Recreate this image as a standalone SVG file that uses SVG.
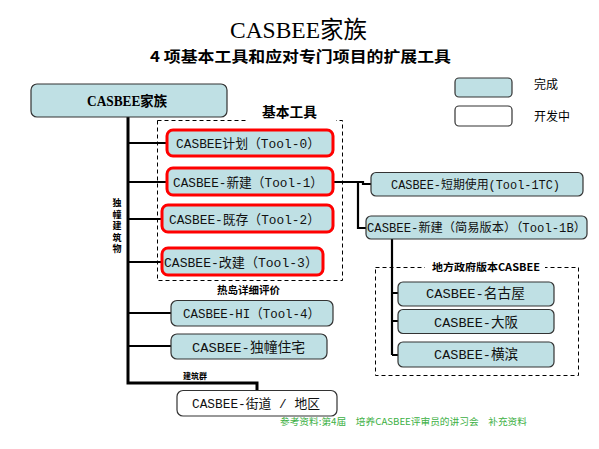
<svg xmlns="http://www.w3.org/2000/svg" width="599" height="449" viewBox="0 0 599 449">
<style>
  .bg{fill:#ffffff}
  .done{fill:#bfe0e4;stroke:#333333;stroke-width:1.2}
  .dev{fill:#ffffff;stroke:#333333;stroke-width:1.2}
  .basic{fill:#bfe0e4;stroke:#ff0000;stroke-width:3}
  .dash{fill:none;stroke:#000000;stroke-width:1;stroke-dasharray:4,3}
  .lbl{font-family:"Liberation Mono","Noto Sans CJK SC",monospace;font-size:13px;fill:#111111}
  .bold{font-family:"Noto Sans CJK SC","Liberation Sans",sans-serif;font-weight:bold;fill:#000000}
  .trunk{fill:none;stroke:#000000;stroke-width:3}
  .br{fill:none;stroke:#000000;stroke-width:2.2}
  .leg{font-family:"Noto Sans CJK SC","Liberation Sans",sans-serif;font-size:12px;fill:#000000}
</style>
<rect class="bg" x="0" y="0" width="599" height="449"/>

<g id="title">
  <text x="230" y="38" textLength="137" lengthAdjust="spacingAndGlyphs" style="font-family:'Liberation Serif','Noto Sans CJK SC',serif;font-size:24px;fill:#000">CASBEE家族</text>
  <text x="150" y="62" textLength="301" lengthAdjust="spacingAndGlyphs" class="bold" style="font-size:15px">4 项基本工具和应对专门项目的扩展工具</text>
</g>

<g id="legend">
  <rect class="done" x="455" y="78" width="57" height="19" rx="4"/>
  <text class="leg" x="534" y="89">完成</text>
  <rect class="dev" x="455" y="106" width="57" height="20" rx="4"/>
  <text class="leg" x="534" y="121">开发中</text>
</g>

<g id="groups">
  <rect class="dash" x="157.5" y="120.5" width="185" height="160"/>
  <rect x="248" y="104" width="88" height="20" fill="#ffffff"/>
  <text class="bold" x="262" y="117" textLength="55" lengthAdjust="spacingAndGlyphs" style="font-size:13.5px">基本工具</text>
  <rect class="dash" x="375.5" y="267.5" width="203" height="108"/>
  <rect x="425" y="260" width="120" height="14" fill="#ffffff"/>
  <text class="bold" x="432" y="271" textLength="108" lengthAdjust="spacingAndGlyphs" style="font-size:10.5px">地方政府版本CASBEE</text>
  <text class="bold" x="217" y="294" textLength="63" lengthAdjust="spacingAndGlyphs" style="font-size:10px">热岛详细评价</text>
  <text class="bold" x="183" y="379" textLength="24" lengthAdjust="spacingAndGlyphs" style="font-size:8.5px">建筑群</text>
  <g class="bold" style="font-size:9px" text-anchor="middle">
    <text x="117" y="206">独</text>
    <text x="117" y="217.5">幢</text>
    <text x="117" y="229">建</text>
    <text x="117" y="240.5">筑</text>
    <text x="117" y="252">物</text>
  </g>
</g>

<g id="connectors">
  <path class="trunk" d="M128,117 V383 H257 V390"/>
  <path class="br" d="M128,143 H167 M128,182 H167 M128,219 H162 M128,262 H162 M128,313 H171 M128,346 H171"/>
  <path class="br" d="M333,182 H363 V184 H371 M358,182 V228 H366"/>
  <path class="br" d="M392,239 V355 M392,293 H398 M392,321 H398 M392,355 H398"/>
</g>

<g id="root">
  <rect class="done" x="31" y="84" width="196" height="33" rx="6"/>
  <text class="bold" x="87" y="106" textLength="80" lengthAdjust="spacingAndGlyphs" style="font-size:14px;font-family:'Liberation Serif','Noto Sans CJK SC',serif">CASBEE家族</text>
</g>

<g id="tool0">
  <rect class="basic" x="167" y="130" width="166" height="26" rx="6"/>
  <text class="lbl" x="176" y="148" textLength="144" lengthAdjust="spacingAndGlyphs">CASBEE计划（Tool-0）</text>
</g>
<g id="tool1">
  <rect class="basic" x="167" y="168" width="166" height="27" rx="6"/>
  <text class="lbl" x="173" y="187" textLength="150" lengthAdjust="spacingAndGlyphs">CASBEE-新建（Tool-1）</text>
</g>
<g id="tool2">
  <rect class="basic" x="162" y="205" width="171" height="27" rx="6"/>
  <text class="lbl" x="169" y="224" textLength="151" lengthAdjust="spacingAndGlyphs">CASBEE-既存（Tool-2）</text>
</g>
<g id="tool3">
  <rect class="basic" x="162" y="248" width="161" height="27" rx="6"/>
  <text class="lbl" x="164" y="267" textLength="154" lengthAdjust="spacingAndGlyphs">CASBEE-改建（Tool-3）</text>
</g>

<g id="tool1tc">
  <rect class="done" x="371" y="172.5" width="212" height="23.5" rx="5"/>
  <text class="lbl" x="391" y="189" textLength="169" lengthAdjust="spacingAndGlyphs" style="font-size:12px">CASBEE-短期使用(Tool-1TC)</text>
</g>
<g id="tool1b">
  <rect class="done" x="366" y="216" width="221" height="23" rx="5"/>
  <text class="lbl" x="367" y="232" textLength="219" lengthAdjust="spacingAndGlyphs" style="font-size:12px">CASBEE-新建（简易版本）（Tool-1B）</text>
</g>

<g id="nagoya">
  <rect class="done" x="398" y="282" width="156" height="24" rx="5"/>
  <text class="lbl" x="426" y="298" textLength="99" lengthAdjust="spacingAndGlyphs" style="font-size:13.5px">CASBEE-名古屋</text>
</g>
<g id="osaka">
  <rect class="done" x="398" y="309.5" width="156" height="24" rx="5"/>
  <text class="lbl" x="434" y="327" textLength="84" lengthAdjust="spacingAndGlyphs" style="font-size:13.5px">CASBEE-大阪</text>
</g>
<g id="yokohama">
  <rect class="done" x="398" y="342" width="156" height="25" rx="5"/>
  <text class="lbl" x="434" y="359" textLength="84" lengthAdjust="spacingAndGlyphs" style="font-size:13.5px">CASBEE-横滨</text>
</g>

<g id="tool4">
  <rect class="done" x="171" y="300.5" width="162" height="25.5" rx="6"/>
  <text class="lbl" x="183" y="318" textLength="137" lengthAdjust="spacingAndGlyphs">CASBEE-HI（Tool-4）</text>
</g>
<g id="house">
  <rect class="done" x="171" y="334" width="156" height="25" rx="6"/>
  <text class="lbl" x="192" y="352" textLength="113" lengthAdjust="spacingAndGlyphs" style="font-size:13.5px">CASBEE-独幢住宅</text>
</g>
<g id="district">
  <rect class="dev" x="177" y="390.5" width="160" height="25.5" rx="6"/>
  <text class="lbl" x="192" y="408" textLength="128" lengthAdjust="spacingAndGlyphs">CASBEE-街道 / 地区</text>
</g>

<g id="footer">
  <text x="280" y="425" textLength="247" lengthAdjust="spacingAndGlyphs" style="font-family:'Noto Sans CJK SC','Liberation Sans',sans-serif;font-size:9.5px;fill:#3cb043">参考资料:第4届　培养CASBEE评审员的讲习会　补充资料</text>
</g>
</svg>
